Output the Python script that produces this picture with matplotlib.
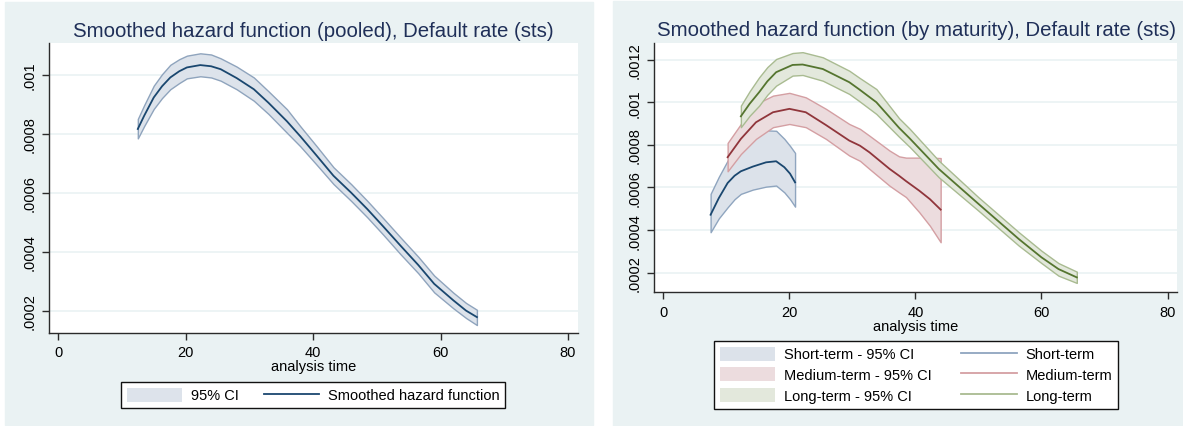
import matplotlib
matplotlib.use("Agg")
import matplotlib.pyplot as plt
from matplotlib.patches import Rectangle, Patch
from matplotlib.lines import Line2D

plt.rcParams['font.family'] = ['Liberation Sans', 'DejaVu Sans']

# pooled smoothed hazard (left panel)
pooled_time = [12.5, 13.5, 15.0, 16.3, 17.6, 19.0, 20.2, 22.3, 24.0, 25.5, 28.0, 30.7, 33.0,
               35.9, 38.0, 40.5, 43.2, 46.0, 48.5, 51.0, 53.7, 56.5, 59.0, 62.0, 64.0, 65.7]
pooled_mid = [0.000817, 0.000862, 0.000924, 0.000962, 0.000992, 0.001013, 0.001026, 0.001034,
              0.001030, 0.001020, 0.000990, 0.000952, 0.000906, 0.000843, 0.000792, 0.000728,
              0.000658, 0.000600, 0.000545, 0.000486, 0.000421, 0.000355, 0.000291, 0.000235,
              0.000200, 0.000178]
pooled_hi = [0.000851, 0.000898, 0.000964, 0.001003, 0.001035, 0.001054, 0.001066, 0.001074,
             0.001070, 0.001057, 0.001029, 0.000992, 0.000945, 0.000884, 0.000826, 0.000760,
             0.000687, 0.000629, 0.000573, 0.000514, 0.000449, 0.000383, 0.000319, 0.000261,
             0.000226, 0.000203]
pooled_lo = [0.000785, 0.000827, 0.000885, 0.000922, 0.000952, 0.000973, 0.000989, 0.000996,
             0.000992, 0.000981, 0.000952, 0.000913, 0.000868, 0.000804, 0.000758, 0.000697,
             0.000630, 0.000572, 0.000517, 0.000458, 0.000392, 0.000327, 0.000262, 0.000208,
             0.000175, 0.000151]

# by maturity (right panel)
short_time = [7.5, 8.8, 10.2, 11.3, 12.3, 14.2, 16.3, 17.9, 19.2, 20.1, 20.9]
short_mid = [0.000472, 0.000550, 0.000621, 0.000655, 0.000676, 0.000698, 0.000718, 0.000723,
             0.000695, 0.000665, 0.000624]
short_hi = [0.000570, 0.000650, 0.000726, 0.000780, 0.000820, 0.000854, 0.000868, 0.000866,
            0.000828, 0.000795, 0.000762]
short_lo = [0.000390, 0.000455, 0.000507, 0.000545, 0.000570, 0.000590, 0.000604, 0.000609,
            0.000577, 0.000545, 0.000510]

med_time = [10.2, 12.3, 14.7, 17.4, 20.0, 22.6, 25.8, 29.5, 31.2, 32.7, 35.9, 37.4, 38.5,
            40.6, 42.3, 44.0]
med_mid = [0.000742, 0.000828, 0.000906, 0.000953, 0.000969, 0.000953, 0.000893, 0.000820,
           0.000796, 0.000765, 0.000687, 0.000655, 0.000630, 0.000585, 0.000545, 0.000496]
med_hi = [0.000809, 0.000898, 0.000992, 0.001031, 0.001044, 0.001023, 0.000969, 0.000898,
          0.000875, 0.000843, 0.000773, 0.000746, 0.000740, 0.000740, 0.000740, 0.000738]
med_lo = [0.000676, 0.000757, 0.000828, 0.000883, 0.000898, 0.000883, 0.000828, 0.000750,
          0.000725, 0.000687, 0.000608, 0.000577, 0.000555, 0.000484, 0.000420, 0.000343]

long_time = [12.3, 13.7, 15.2, 16.5, 17.9, 20.5, 22.1, 25.3, 29.5, 31.1, 33.8, 37.4, 39.1,
             43.7, 50.0, 56.4, 60.0, 62.7, 65.6]
long_mid = [0.000934, 0.000993, 0.001047, 0.001098, 0.001141, 0.001175, 0.001177, 0.001156,
            0.001094, 0.001060, 0.001000, 0.000880, 0.000830, 0.000687, 0.000523, 0.000358,
            0.000272, 0.000217, 0.000178]
long_hi = [0.000984, 0.001052, 0.001117, 0.001165, 0.001203, 0.001231, 0.001235, 0.001211,
           0.001148, 0.001115, 0.001062, 0.000925, 0.000875, 0.000726, 0.000554, 0.000390,
           0.000303, 0.000245, 0.000205]
long_lo = [0.000883, 0.000937, 0.000984, 0.001035, 0.001078, 0.001125, 0.001128, 0.001101,
           0.001039, 0.001005, 0.000945, 0.000838, 0.000790, 0.000648, 0.000491, 0.000327,
           0.000245, 0.000186, 0.000152]

x_ticks = [0, 20, 40, 60, 80]
left_yticks = [0.0002, 0.0004, 0.0006, 0.0008, 0.001]
left_ylabels = [".0002", ".0004", ".0006", ".0008", ".001"]
right_yticks = [0.0002, 0.0004, 0.0006, 0.0008, 0.001, 0.0012]
right_ylabels = [".0002", ".0004", ".0006", ".0008", ".001", ".0012"]

BG = "#eaf2f3"
TITLE = "#1f2f58"
W, H = 1183, 427

fig = plt.figure(figsize=(W / 100, H / 100), dpi=100, facecolor="white")

# panel backgrounds (behind the axes)
fig.patches.append(Rectangle((5 / W, 1 - 426 / H), 588 / W, 423 / H,
                             transform=fig.transFigure, color=BG, zorder=-1))
fig.patches.append(Rectangle((613 / W, 0), 570 / W, 425 / H,
                             transform=fig.transFigure, color=BG, zorder=-1))


def style_axes(ax, yticks, ylabels, ylim):
    ax.set_facecolor("white")
    ax.set_xlim(-1.45, 81.5)
    ax.set_ylim(*ylim)
    ax.set_xticks(x_ticks)
    ax.set_xticklabels([str(t) for t in x_ticks])
    ax.set_yticks(yticks)
    ax.set_yticklabels(ylabels, rotation=90, va="center")
    for s in ["top", "right"]:
        ax.spines[s].set_visible(False)
    for s in ["left", "bottom"]:
        ax.spines[s].set_color("#2b2b2b")
        ax.spines[s].set_linewidth(1.0)
    ax.tick_params(direction="out", length=5, width=1, color="#2b2b2b",
                   labelsize=10.5, pad=4)
    ax.grid(axis="y", color=BG, lw=1.2)
    ax.set_axisbelow(True)
    ax.set_xlabel("analysis time", fontsize=10.5, labelpad=0)


# left panel
ax1 = fig.add_axes([48.9 / W, 1 - 334 / H, 528.7 / W, 290 / H])
style_axes(ax1, left_yticks, left_ylabels, (0.000124, 0.001109))
ax1.fill_between(pooled_time, pooled_lo, pooled_hi, facecolor="#dde3eb",
                 edgecolor="#8fa4bd", lw=1)
ax1.plot(pooled_time, pooled_mid, color="#1a476f", lw=1.3)
fig.text(313.5 / W, 1 - 31.7 / H, "Smoothed hazard function (pooled), Default rate (sts)",
         ha="center", va="center", fontsize=14.7, color=TITLE)

h1 = [Patch(facecolor="#dde3eb", edgecolor="none"),
      Line2D([], [], color="#1a476f", lw=1.3)]
fig.legend(h1, ["95% CI", "Smoothed hazard function"], ncol=2,
           loc="upper center", bbox_to_anchor=(313 / W, 1 - 382.7 / H),
           fontsize=10.5, frameon=True, fancybox=False, edgecolor="#111111",
           facecolor="white", framealpha=1, handlelength=3.8, handleheight=1.1,
           handletextpad=0.6, columnspacing=1.7, borderpad=0.4, borderaxespad=0)

# right panel
ax2 = fig.add_axes([654.2 / W, 1 - 293.3 / H, 522.8 / W, 249.3 / H])
style_axes(ax2, right_yticks, right_ylabels, (0.000108, 0.001278))
series = [
    (short_time, short_mid, short_hi, short_lo, "#1a476f", "#dce2ea", "#8fa5bf"),
    (med_time, med_mid, med_hi, med_lo, "#90353b", "#ecdcde", "#d49fa3"),
    (long_time, long_mid, long_hi, long_lo, "#55752f", "#e3e8dc", "#a9bb91"),
]
for t, m, hi, lo, lc, fc, ec in series:
    ax2.fill_between(t, lo, hi, facecolor=fc, edgecolor=ec, lw=1)
for t, m, hi, lo, lc, fc, ec in series:
    ax2.plot(t, m, color=lc, lw=1.3)
fig.text(916.5 / W, 1 - 30 / H, "Smoothed hazard function (by maturity), Default rate (sts)",
         ha="center", va="center", fontsize=14.7, color=TITLE)

h2 = [Patch(facecolor=s[5], edgecolor="none") for s in series] + \
     [Line2D([], [], color=s[6], lw=1.3) for s in series]
labels2 = ["Short-term - 95% CI", "Medium-term - 95% CI", "Long-term - 95% CI",
           "Short-term", "Medium-term", "Long-term"]
fig.legend(h2, labels2, ncol=2, loc="upper center",
           bbox_to_anchor=(916 / W, 1 - 341.7 / H),
           fontsize=10.5, frameon=True, fancybox=False, edgecolor="#111111",
           facecolor="white", framealpha=1, handlelength=3.8, handleheight=1.1,
           handletextpad=0.6, columnspacing=2.0, borderpad=0.4, labelspacing=0.4,
           borderaxespad=0)

fig.savefig("out.png", dpi=100, facecolor="white")
